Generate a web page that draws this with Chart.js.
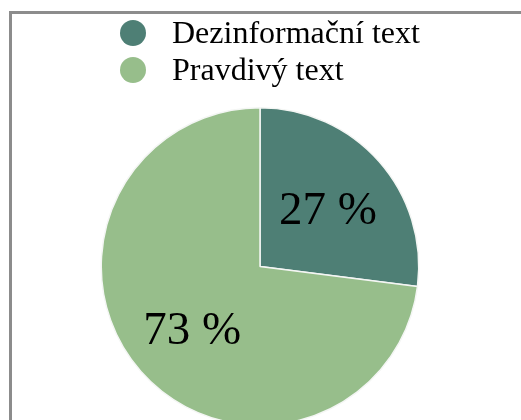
<!DOCTYPE html>
<html>
<head>
<meta charset="utf-8">
<script src="https://cdn.jsdelivr.net/npm/chart.js@4"></script>
<style>
  body { margin: 0; overflow: hidden; background: #fff; }
  #frame {
    position: absolute; left: 9px; top: 11px; width: 600px; height: 500px;
    border-left: 3px solid #8c8c8c; border-top: 3px solid #8c8c8c;
  }
  #chart_box { position: absolute; left: 0; top: 0; width: 521px; height: 426px; }
  #legend {
    position: absolute; left: 120px; top: 14px; margin: 0; padding: 0;
    list-style: none; font-family: "Liberation Serif", "Times New Roman", serif;
    font-size: 32px; color: #000; z-index: 2;
  }
  #legend li { display: flex; align-items: center; height: 37px; line-height: 37px; white-space: nowrap; }
  #legend .dot { width: 26px; height: 26px; border-radius: 50%; margin-right: 26px; }
</style>
</head>
<body>
<div id="frame"></div>
<div id="chart_box"><canvas id="my_chart"></canvas></div>
<ul id="legend"></ul>
<script>
const labels = ["Dezinformační text", "Pravdivý text"]
const values = [27, 73]
const sliceColors = ['#4e7f75', '#97be8b']

// legend built from the chart's own legend items
const htmlLegend = {
  id: 'htmlLegend',
  afterUpdate(chart) {
    const list = document.querySelector("#legend")
    list.innerHTML = ""
    const items = chart.options.plugins.legend.labels.generateLabels(chart)
    items.forEach(item => {
      const li = document.createElement('li')
      const dot = document.createElement('span')
      dot.className = 'dot'
      dot.style.background = item.fillStyle
      li.appendChild(dot)
      const text = document.createElement('span')
      text.textContent = item.text
      li.appendChild(text)
      list.appendChild(li)
    })
  }
}

// percent labels inside the slices
const sliceLabels = {
  id: 'sliceLabels',
  afterDatasetsDraw(chart) {
    const ctx = chart.ctx
    const meta = chart.getDatasetMeta(0)
    ctx.save()
    ctx.font = '47px "Liberation Serif", "Times New Roman", serif'
    ctx.fillStyle = '#000'
    ctx.textAlign = 'center'
    ctx.textBaseline = 'middle'
    meta.data.forEach((arc, i) => {
      const mid = (arc.startAngle + arc.endAngle) / 2
      const r = arc.outerRadius * 0.57
      ctx.fillText(values[i] + ' %', arc.x + Math.cos(mid) * r, arc.y + Math.sin(mid) * r + 5)
    })
    ctx.restore()
  }
}

new Chart(document.querySelector("#my_chart"), {
  type: 'pie',
  data: {
    labels: labels,
    datasets: [{
      data: values,
      backgroundColor: sliceColors,
      borderColor: '#f4f6f4',
      borderWidth: 1.5
    }]
  },
  options: {
    responsive: true,
    maintainAspectRatio: false,
    animation: false,
    layout: { padding: { top: 107, bottom: 0, left: 0, right: 1 } },
    plugins: {
      legend: { display: false },
      tooltip: { enabled: false }
    }
  },
  plugins: [htmlLegend, sliceLabels]
})
</script>
</body>
</html>
